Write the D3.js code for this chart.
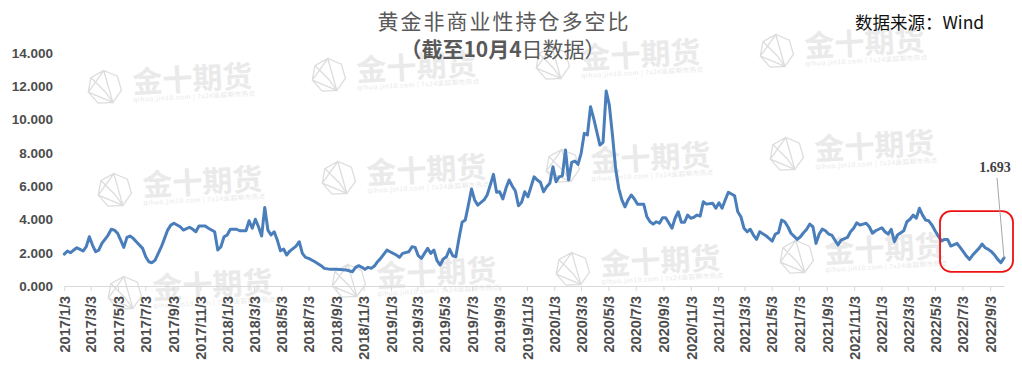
<!DOCTYPE html>
<html>
<head>
<meta charset="utf-8">
<script src="https://cdn.jsdelivr.net/npm/d3@7"></script>
<style>
  html, body { margin: 0; padding: 0; background: #fff; }
  svg { display: block; }
</style>
</head>
<body>
<svg id="chart"></svg>
<script>
// COT report dates (weekly, Tuesday)
const dates = [
  "2017/1/3","2017/1/10","2017/1/17","2017/1/24","2017/1/31","2017/2/7","2017/2/14","2017/2/21","2017/2/28",
  "2017/3/7","2017/3/14","2017/3/21","2017/3/28","2017/4/11","2017/4/18","2017/4/25","2017/5/2","2017/5/9",
  "2017/5/16","2017/5/23","2017/5/30","2017/6/6","2017/6/13","2017/6/27","2017/7/4","2017/7/11","2017/7/18",
  "2017/7/25","2017/8/1","2017/8/8","2017/8/15","2017/8/22","2017/8/29","2017/9/5","2017/9/19","2017/9/26",
  "2017/10/10","2017/10/17","2017/10/24","2017/10/31","2017/11/14","2017/11/21","2017/12/5","2017/12/12",
  "2017/12/19","2017/12/26",
  "2018/1/2","2018/1/9","2018/1/23","2018/1/30","2018/2/13","2018/2/20","2018/2/27","2018/3/6","2018/3/13",
  "2018/3/20","2018/3/27","2018/4/3","2018/4/10","2018/4/17","2018/4/24","2018/5/1","2018/5/8","2018/5/15",
  "2018/5/22","2018/6/5","2018/6/12","2018/6/19","2018/6/26","2018/7/3","2018/7/17","2018/7/31","2018/8/7",
  "2018/8/21","2018/9/4","2018/9/25","2018/10/9","2018/10/16","2018/10/23","2018/10/30","2018/11/6",
  "2018/11/13","2018/11/20","2018/11/27","2018/12/4","2018/12/11","2018/12/25",
  "2019/1/1","2019/1/15","2019/1/22","2019/1/29","2019/2/12","2019/2/19","2019/2/26","2019/3/5","2019/3/12",
  "2019/3/19","2019/3/26","2019/4/2","2019/4/9","2019/4/16","2019/4/23","2019/4/30","2019/5/7","2019/5/14",
  "2019/5/21","2019/5/28","2019/6/4","2019/6/11","2019/6/18","2019/6/25","2019/7/2","2019/7/9","2019/7/16",
  "2019/7/30","2019/8/6","2019/8/13","2019/8/20","2019/8/27","2019/9/3","2019/9/10","2019/9/17","2019/9/24",
  "2019/10/1","2019/10/8","2019/10/15","2019/10/22","2019/10/29","2019/11/5","2019/11/19","2019/11/26",
  "2019/12/3","2019/12/10","2019/12/17","2019/12/24","2019/12/31",
  "2020/1/7","2020/1/14","2020/1/21","2020/1/28","2020/2/4","2020/2/11","2020/2/18","2020/2/25","2020/3/3",
  "2020/3/10","2020/3/17","2020/3/24","2020/3/31","2020/4/7","2020/4/14","2020/4/21","2020/4/28","2020/5/5",
  "2020/5/12","2020/5/19","2020/5/26","2020/6/2","2020/6/9","2020/6/16","2020/6/23","2020/6/30","2020/7/7",
  "2020/7/21","2020/7/28","2020/8/4","2020/8/11","2020/8/18","2020/8/25","2020/9/1","2020/9/8","2020/9/22",
  "2020/9/29","2020/10/6","2020/10/13","2020/10/20","2020/10/27","2020/11/3","2020/11/10","2020/11/17",
  "2020/11/24","2020/12/1","2020/12/8","2020/12/22","2020/12/29",
  "2021/1/5","2021/1/12","2021/1/19","2021/1/26","2021/2/9","2021/2/16","2021/2/23","2021/3/2","2021/3/9",
  "2021/3/16","2021/3/23","2021/3/30","2021/4/6","2021/4/20","2021/4/27","2021/5/4","2021/5/11","2021/5/18",
  "2021/5/25","2021/6/1","2021/6/8","2021/6/15","2021/6/29","2021/7/6","2021/7/13","2021/7/20","2021/7/27",
  "2021/8/3","2021/8/10","2021/8/17","2021/8/24","2021/8/31","2021/9/7","2021/9/14","2021/9/21","2021/9/28",
  "2021/10/5","2021/10/19","2021/10/26","2021/11/2","2021/11/9","2021/11/16","2021/11/23","2021/11/30",
  "2021/12/7","2021/12/14","2021/12/21",
  "2022/1/4","2022/1/11","2022/1/18","2022/1/25","2022/2/1","2022/2/8","2022/2/22","2022/3/1","2022/3/8",
  "2022/3/15","2022/3/22","2022/3/29","2022/4/5","2022/4/12","2022/4/19","2022/4/26","2022/5/3","2022/5/10",
  "2022/5/17","2022/5/24","2022/5/31","2022/6/7","2022/6/21","2022/6/28","2022/7/5","2022/7/12","2022/7/19",
  "2022/7/26","2022/8/9","2022/8/16","2022/8/23","2022/8/30","2022/9/6","2022/9/13","2022/9/20","2022/9/27",
  "2022/10/4"
];

// non-commercial long/short ratio
const ratios = [
  1.92,2.10,2.00,2.16,2.30,2.20,2.10,2.36,2.96,
  2.46,2.06,2.16,2.56,3.06,3.41,3.36,3.17,2.76,
  2.32,2.92,3.00,2.86,2.66,2.26,1.76,1.46,1.40,
  1.56,1.96,2.36,2.86,3.36,3.66,3.77,3.56,3.36,
  3.53,3.41,3.26,3.60,3.60,3.47,3.26,2.16,
  2.36,2.96,
  3.06,3.41,3.41,3.32,3.32,3.92,3.47,4.01,3.56,
  3.00,4.72,3.36,3.06,3.26,2.76,2.12,2.22,1.86,
  2.10,2.40,2.66,1.96,1.72,1.66,1.46,1.22,1.06,
  1.00,1.00,0.96,0.86,1.12,1.22,1.12,1.00,
  1.12,1.06,1.20,1.46,1.66,2.16,
  2.06,1.86,1.72,1.96,2.06,2.36,2.32,1.82,1.66,
  1.96,2.26,1.96,2.16,1.52,1.26,1.62,1.76,2.22,
  1.82,1.76,2.86,3.83,3.96,4.86,5.83,5.17,4.86,
  5.17,5.47,6.07,6.71,5.63,5.66,5.23,5.87,6.37,
  6.01,5.71,4.82,5.03,5.66,5.36,6.56,6.37,
  6.23,5.66,5.96,6.17,7.17,
  6.26,6.56,6.62,8.17,6.37,7.43,7.51,7.31,7.97,
  9.17,9.07,10.77,10.07,9.27,8.47,8.63,11.71,10.87,
  9.07,7.07,5.87,5.17,4.76,5.17,5.47,5.23,4.91,
  4.91,4.16,3.86,3.72,3.86,3.77,4.10,4.10,3.47,
  4.07,4.46,3.83,3.83,4.26,4.07,4.13,4.26,
  4.20,5.06,4.92,4.97,4.67,
  5.00,4.67,5.17,5.63,5.42,4.46,4.16,3.47,3.26,
  3.41,3.06,2.80,3.26,3.02,2.86,2.70,3.12,3.20,
  3.96,3.86,3.56,3.17,2.80,2.96,3.20,3.41,3.72,
  3.56,2.56,3.12,3.42,3.32,3.12,3.06,2.76,2.46,
  2.76,2.92,3.26,3.47,3.80,3.66,3.72,3.77,
  3.56,3.17,3.32,
  3.50,3.26,3.12,3.41,2.66,3.06,3.32,3.86,4.01,
  4.26,4.07,4.67,4.26,3.96,3.92,3.66,3.32,3.00,
  2.70,2.80,2.80,2.40,2.56,2.32,2.06,1.80,1.60,
  1.86,2.26,2.52,2.30,2.20,2.06,1.86,1.60,1.40,
  1.693
];

// x axis labels, every two months
const tickLabels = [
  "2017/1/3","2017/3/3","2017/5/3","2017/7/3","2017/9/3","2017/11/3",
  "2018/1/3","2018/3/3","2018/5/3","2018/7/3","2018/9/3","2018/11/3",
  "2019/1/3","2019/3/3","2019/5/3","2019/7/3","2019/9/3","2019/11/3",
  "2020/1/3","2020/3/3","2020/5/3","2020/7/3","2020/9/3","2020/11/3",
  "2021/1/3","2021/3/3","2021/5/3","2021/7/3","2021/9/3","2021/11/3",
  "2022/1/3","2022/3/3","2022/5/3","2022/7/3","2022/9/3"
];
const yTicks = [0, 2, 4, 6, 8, 10, 12, 14];

const title = "黄金非商业性持仓多空比";
const subtitleBold = "（截至10月4";
const subtitleRest = "日数据）";
const source = "数据来源：Wind";
const lastLabel = "1.693";
// box around the latest decline
const highlightFrom = "2022/5/14";
const highlightTop = 4.5, highlightBottom = 0.85;

const toDate = s => { const p = s.split("/").map(Number); return new Date(p[0], p[1] - 1, p[2]); };

const width = 1022, height = 371;
const svg = d3.select("#chart").attr("width", width).attr("height", height);

const points = dates.map((d, i) => ({ date: toDate(d), value: ratios[i] }));
const x = d3.scaleTime()
    .domain([toDate(dates[0]), toDate(dates[dates.length - 1])])
    .range([64.3, 1004]);
const y = d3.scaleLinear().domain([0, 14]).range([286, 53]);

// watermark grid (faint logo repeated), only the copies that fit on the page
const wm = svg.append("g").attr("class", "watermark");
for (let r = 0; r < 4; r++) {
  for (let c = 0; c < 4; c++) {
    const tx = 133 + 224 * c + 10 * r;
    const ty = 93 - 12 * c + 103 * r;
    if (tx + 125 > width || ty + 10 > height) continue;
    const g = wm.append("g").attr("transform", `translate(${tx},${ty}) rotate(-3)`);
    const R = 17, cx = -28, cy = -7;
    const hex = d3.range(7).map(k => {
      const a = -Math.PI / 2 + k * 2 * Math.PI / 7;
      return [cx + R * Math.cos(a), cy + R * Math.sin(a)];
    });
    g.append("path")
        .attr("d", "M" + hex.join("L") + "Z"
          + `M${hex[0]}L${hex[3]}L${hex[5]}Z M${hex[3]}L${cx},${cy + 4}L${hex[6]}`)
        .attr("fill", "none")
        .attr("stroke", "#dddddd")
        .attr("stroke-width", 1.3);
    g.append("text")
        .attr("font-family", "'Noto Sans CJK SC', sans-serif")
        .attr("font-size", 30)
        .attr("font-weight", "bold")
        .attr("fill", "#eaeaea")
        .text("金十期货");
    g.append("text")
        .attr("y", 9)
        .attr("font-family", "'Noto Sans CJK SC', sans-serif")
        .attr("font-size", 6.5)
        .attr("fill", "#e8e8e8")
        .attr("textLength", 122)
        .text("qihuo.jin10.com  |  7x24追踪期市热点");
  }
}

// y axis (labels only)
const yAxis = svg.append("g")
    .attr("transform", "translate(64,0)")
    .call(d3.axisLeft(y).tickValues(yTicks).tickFormat(d3.format(".3f")).tickSize(0).tickPadding(11));
yAxis.select(".domain").remove();
yAxis.selectAll("text")
    .attr("font-family", "'Liberation Sans', Arial, sans-serif")
    .attr("font-size", 13.5)
    .attr("font-weight", "bold")
    .attr("fill", "#4d4d4d");

// x axis
const xAxis = svg.append("g")
    .attr("transform", `translate(0,${y(0)})`)
    .call(d3.axisBottom(x)
      .tickValues(tickLabels.map(toDate))
      .tickFormat((d, i) => tickLabels[i])
      .tickSizeInner(5)
      .tickSizeOuter(0));
xAxis.select(".domain").attr("stroke", "#d9d9d9");
xAxis.selectAll(".tick line").attr("stroke", "#d9d9d9");
xAxis.selectAll("text")
    .attr("transform", "rotate(-90)")
    .attr("text-anchor", "end")
    .attr("x", -10)
    .attr("y", 0)
    .attr("dy", "0.36em")
    .attr("font-family", "'Liberation Sans', Arial, sans-serif")
    .attr("font-size", 14.5)
    .attr("font-weight", "bold")
    .attr("fill", "#4d4d4d");

// ratio line
svg.append("path")
    .datum(points)
    .attr("fill", "none")
    .attr("stroke", "#4a7ebb")
    .attr("stroke-width", 3)
    .attr("stroke-linejoin", "round")
    .attr("stroke-linecap", "round")
    .attr("d", d3.line().x(d => x(d.date)).y(d => y(d.value)));

// highlight box
const last = points[points.length - 1];
const hx = x(toDate(highlightFrom));
svg.append("rect")
    .attr("x", hx)
    .attr("y", y(highlightTop))
    .attr("width", x(last.date) + 9 - hx)
    .attr("height", y(highlightBottom) - y(highlightTop))
    .attr("rx", 11)
    .attr("fill", "none")
    .attr("stroke", "#ee1111")
    .attr("stroke-width", 1.8);

// last value call-out
const lx = x(last.date), ly = y(last.value);
svg.append("line")
    .attr("x1", lx - 7).attr("y1", ly - 80)
    .attr("x2", lx).attr("y2", ly)
    .attr("stroke", "#a6a6a6")
    .attr("stroke-width", 1);
svg.append("text")
    .attr("x", lx - 9)
    .attr("y", ly - 86)
    .attr("text-anchor", "middle")
    .attr("font-family", "'Liberation Serif', serif")
    .attr("font-size", 14)
    .attr("font-weight", "bold")
    .attr("fill", "#404040")
    .text(lastLabel);

// titles
svg.append("text")
    .attr("x", 504)
    .attr("y", 29)
    .attr("text-anchor", "middle")
    .attr("font-family", "'Noto Sans CJK SC', sans-serif")
    .attr("font-size", 21)
    .attr("letter-spacing", 2)
    .attr("fill", "#595959")
    .text(title);
const sub = svg.append("text")
    .attr("x", 503)
    .attr("y", 57)
    .attr("text-anchor", "middle")
    .attr("font-family", "'Noto Sans CJK SC', sans-serif")
    .attr("font-size", 21)
    .attr("fill", "#595959");
sub.append("tspan").attr("font-weight", "bold").text(subtitleBold);
sub.append("tspan").text(subtitleRest);

svg.append("text")
    .attr("x", 855)
    .attr("y", 29)
    .attr("font-family", "'Noto Sans CJK SC', sans-serif")
    .attr("font-size", 17.5)
    .attr("fill", "#111")
    .text(source);
</script>
</body>
</html>
